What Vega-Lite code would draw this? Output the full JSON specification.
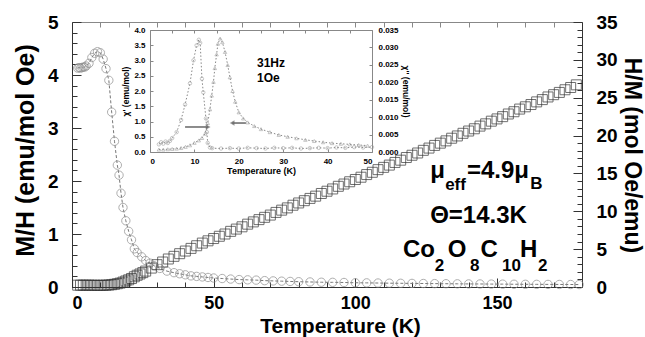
{
  "$schema": "https://vega.github.io/schema/vega-lite/v6.json",
  "width": 510,
  "height": 265,
  "autosize": {"type": "none"},
  "padding": {"left": 72, "top": 22, "right": 63, "bottom": 50},
  "background": "white",
  "config": {"view": {"stroke": null}, "font": "Liberation Sans", "axis": {"grid": false}},
  "datasets": {
    "mh": [
      {"x":2,"y":4.13},{"x":2.5,"y":4.14},{"x":3,"y":4.13},{"x":3.5,"y":4.14},{"x":4,"y":4.15},{"x":4.5,"y":4.15},{"x":5,"y":4.17},{"x":6,"y":4.22},{"x":7,"y":4.33},{"x":8,"y":4.41},{"x":9,"y":4.44},{"x":10,"y":4.42},{"x":11,"y":4.3},{"x":12,"y":4.12},{"x":13,"y":3.9},{"x":14,"y":3.3},{"x":15,"y":2.75},{"x":16,"y":2.3},{"x":16.6,"y":2.11},{"x":17.3,"y":1.77},{"x":18,"y":1.5},{"x":19,"y":1.25},{"x":20,"y":1.05},{"x":21,"y":0.89},{"x":22,"y":0.72},{"x":23,"y":0.65},{"x":24.6,"y":0.57},{"x":26,"y":0.5},{"x":27.5,"y":0.45},{"x":29,"y":0.4},{"x":31,"y":0.35},{"x":33.5,"y":0.3},{"x":36,"y":0.27},{"x":38,"y":0.25},{"x":40,"y":0.23},{"x":42,"y":0.21},{"x":44,"y":0.2},{"x":46,"y":0.19},{"x":48,"y":0.18},{"x":50,"y":0.17},{"x":53,"y":0.16},{"x":56,"y":0.15},{"x":59,"y":0.14},{"x":62,"y":0.135},{"x":65,"y":0.13},{"x":68,"y":0.12},{"x":71,"y":0.115},{"x":74,"y":0.11},{"x":77,"y":0.105},{"x":80,"y":0.1},{"x":84,"y":0.095},{"x":88,"y":0.09},{"x":92,"y":0.088},{"x":96,"y":0.085},{"x":100,"y":0.08},{"x":104,"y":0.078},{"x":108,"y":0.075},{"x":112,"y":0.072},{"x":116,"y":0.07},{"x":120,"y":0.068},{"x":124,"y":0.066},{"x":128,"y":0.064},{"x":132,"y":0.062},{"x":136,"y":0.06},{"x":140,"y":0.058},{"x":144,"y":0.057},{"x":148,"y":0.055},{"x":152,"y":0.054},{"x":156,"y":0.052},{"x":160,"y":0.051},{"x":164,"y":0.05},{"x":168,"y":0.049},{"x":172,"y":0.048},{"x":176,"y":0.047},{"x":179,"y":0.046}
    ],
    "hm": [
      {"x":2,"y":0.24},{"x":3,"y":0.24},{"x":4,"y":0.24},{"x":5,"y":0.24},{"x":6,"y":0.24},{"x":7,"y":0.23},{"x":8,"y":0.23},{"x":9,"y":0.22},{"x":10,"y":0.22},{"x":11,"y":0.23},{"x":12,"y":0.24},{"x":13,"y":0.26},{"x":14,"y":0.3},{"x":15,"y":0.36},{"x":16,"y":0.43},{"x":17,"y":0.52},{"x":18,"y":0.65},{"x":19,"y":0.8},{"x":20,"y":0.95},{"x":21,"y":1.12},{"x":22,"y":1.35},{"x":23,"y":1.55},{"x":24,"y":1.72},{"x":25,"y":1.9},{"x":26,"y":2.1},{"x":28,"y":2.5},{"x":30,"y":2.95},{"x":32,"y":3.3},{"x":34,"y":3.7},{"x":36,"y":4.05},{"x":38,"y":4.4},{"x":40,"y":4.75},{"x":42,"y":5.1},{"x":44,"y":5.45},{"x":46,"y":5.8},{"x":48,"y":6.1},{"x":50,"y":6.4},{"x":52,"y":6.7},{"x":54,"y":7.0},{"x":56,"y":7.35},{"x":58,"y":7.65},{"x":60,"y":7.95},{"x":62,"y":8.3},{"x":64,"y":8.6},{"x":66,"y":8.9},{"x":68,"y":9.2},{"x":70,"y":9.5},{"x":72,"y":9.85},{"x":74,"y":10.15},{"x":76,"y":10.45},{"x":78,"y":10.8},{"x":80,"y":11.1},{"x":82,"y":11.4},{"x":84,"y":11.7},{"x":86,"y":12.0},{"x":88,"y":12.35},{"x":90,"y":12.65},{"x":92,"y":12.95},{"x":94,"y":13.3},{"x":96,"y":13.6},{"x":98,"y":13.9},{"x":100,"y":14.2},{"x":102,"y":14.5},{"x":104,"y":14.85},{"x":106,"y":15.15},{"x":108,"y":15.5},{"x":110,"y":15.8},{"x":112,"y":16.1},{"x":114,"y":16.45},{"x":116,"y":16.75},{"x":118,"y":17.1},{"x":120,"y":17.4},{"x":122,"y":17.7},{"x":124,"y":18.05},{"x":126,"y":18.35},{"x":128,"y":18.7},{"x":130,"y":19.0},{"x":132,"y":19.3},{"x":134,"y":19.65},{"x":136,"y":19.95},{"x":138,"y":20.3},{"x":140,"y":20.6},{"x":142,"y":20.9},{"x":144,"y":21.25},{"x":146,"y":21.55},{"x":148,"y":21.9},{"x":150,"y":22.2},{"x":152,"y":22.5},{"x":154,"y":22.85},{"x":156,"y":23.15},{"x":158,"y":23.5},{"x":160,"y":23.8},{"x":162,"y":24.1},{"x":164,"y":24.45},{"x":166,"y":24.75},{"x":168,"y":25.1},{"x":170,"y":25.4},{"x":172,"y":25.7},{"x":174,"y":26.05},{"x":176,"y":26.35},{"x":178,"y":26.7}
    ],
    "ann": [
      {"x":126.4,"y":2.06,"t":"μ","s":24},
      {"x":131.7,"y":1.83,"t":"eff","s":17},
      {"x":139.4,"y":2.06,"t":"=4.9μ","s":24},
      {"x":161.7,"y":1.85,"t":"B","s":17},
      {"x":126.4,"y":1.21,"t":"Θ=14.3K","s":24},
      {"x":116.8,"y":0.566,"t":"Co","s":24},
      {"x":128.0,"y":0.3,"t":"2","s":17},
      {"x":132.6,"y":0.566,"t":"O","s":24},
      {"x":140.5,"y":0.3,"t":"8","s":17},
      {"x":144.2,"y":0.566,"t":"C","s":24},
      {"x":151.8,"y":0.3,"t":"10","s":17},
      {"x":158.1,"y":0.566,"t":"H","s":24},
      {"x":164.5,"y":0.3,"t":"2","s":17}
    ],
    "chia": [
      {"x":2,"y":0.08},{"x":3,"y":0.08},{"x":4,"y":0.09},{"x":5,"y":0.1},{"x":6,"y":0.11},{"x":7,"y":0.13},{"x":8,"y":0.17},{"x":9,"y":0.22},{"x":10,"y":0.3},{"x":11,"y":0.38},{"x":11.7,"y":0.46},{"x":12.4,"y":0.6},{"x":13,"y":0.95},{"x":13.5,"y":1.4},{"x":13.9,"y":1.85},{"x":14.3,"y":2.3},{"x":14.6,"y":2.75},{"x":15,"y":3.2},{"x":15.3,"y":3.55},{"x":15.8,"y":3.72},{"x":16.3,"y":3.6},{"x":16.9,"y":3.28},{"x":17.5,"y":2.85},{"x":18,"y":2.45},{"x":18.6,"y":2.0},{"x":19.2,"y":1.65},{"x":20,"y":1.3},{"x":21,"y":1.1},{"x":22,"y":0.97},{"x":23.5,"y":0.85},{"x":25,"y":0.75},{"x":27,"y":0.65},{"x":29,"y":0.56},{"x":31,"y":0.5},{"x":33,"y":0.45},{"x":35,"y":0.4},{"x":37,"y":0.36},{"x":39,"y":0.32},{"x":41,"y":0.29},{"x":43,"y":0.27},{"x":45,"y":0.25},{"x":47,"y":0.23},{"x":49,"y":0.21}
    ],
    "chib": [
      {"x":2,"y":0.0022},{"x":2.5,"y":0.0028},{"x":3,"y":0.0024},{"x":3.5,"y":0.003},{"x":4,"y":0.0026},{"x":4.5,"y":0.0032},{"x":5,"y":0.004},{"x":6,"y":0.0057},{"x":7,"y":0.0092},{"x":7.9,"y":0.0136},{"x":9,"y":0.0197},{"x":9.8,"y":0.0263},{"x":10.5,"y":0.0306},{"x":11,"y":0.0322},{"x":11.3,"y":0.0313},{"x":11.7,"y":0.021},{"x":12,"y":0.0171},{"x":12.6,"y":0.0096},{"x":12.8,"y":0.0057},{"x":13,"y":0.0026},{"x":13.5,"y":0.0013},{"x":14,"y":0.0011},{"x":16,"y":0.001},{"x":18,"y":0.0011},{"x":20,"y":0.001},{"x":22,"y":0.0012},{"x":24,"y":0.0011},{"x":26,"y":0.001},{"x":28,"y":0.0012},{"x":30,"y":0.0011},{"x":32,"y":0.0012},{"x":34,"y":0.001},{"x":36,"y":0.0011},{"x":38,"y":0.0012},{"x":40,"y":0.0011},{"x":42,"y":0.0013},{"x":44,"y":0.0012},{"x":46,"y":0.0014},{"x":48,"y":0.0013},{"x":50,"y":0.0014}
    ],
    "itext": [
      {"x":24.1,"y":2.79,"t":"31Hz"},
      {"x":24.1,"y":2.3,"t":"1Oe"}
    ],
    "arrows": [
      {"x":7.9,"x2":13.1,"y":0.82},
      {"x":18.5,"x2":21.6,"y":0.95}
    ],
    "tips": [
      {"x":13.1,"y":0.82,"shape":"triangle-right"},
      {"x":18.5,"y":0.95,"shape":"triangle-left"}
    ]
  },
  "resolve": {"scale": {"x": "independent", "y": "independent"}, "axis": {"x": "independent", "y": "independent"}},
  "layer": [
    {
      "encoding": {
        "x": {"field": "x", "type": "quantitative", "scale": {"domain": [0, 180], "nice": false},
          "axis": {"orient": "bottom", "values": [0,10,20,30,40,50,60,70,80,90,100,110,120,130,140,150,160,170,180],
            "labelExpr": "datum.value % 50 === 0 ? format(datum.value,'d') : ''",
            "tickSize": {"condition": {"test": "datum.value % 50 === 0", "value": -9}, "value": -5},
            "labelFontSize": 18, "labelFontWeight": "bold", "labelColor": "black", "labelPadding": 16,
            "domainColor": "#333", "tickColor": "#333",
            "title": "Temperature (K)", "titleFontSize": 21, "titleFontWeight": "bold", "titleColor": "black",
            "titleX": 268, "titleY": 45, "titleBaseline": "alphabetic"}},
        "y": {"field": "y", "type": "quantitative", "scale": {"domain": [0, 5], "nice": false},
          "axis": {"orient": "left", "values": [0,0.2,0.4,0.6,0.8,1,1.2,1.4,1.6,1.8,2,2.2,2.4,2.6,2.8,3,3.2,3.4,3.6,3.8,4,4.2,4.4,4.6,4.8,5],
            "labelExpr": "datum.value % 1 === 0 ? format(datum.value,'d') : ''",
            "tickSize": {"condition": {"test": "datum.value % 1 === 0", "value": -9}, "value": -5},
            "labelFontSize": 19, "labelFontWeight": "bold", "labelColor": "black", "labelPadding": 23,
            "domainColor": "#333", "tickColor": "#333",
            "title": "M/H (emu/mol Oe)", "titleFontSize": 25, "titleFontWeight": "bold", "titleColor": "black",
            "titleAngle": 270, "titleX": -39, "titleY": 128, "titleBaseline": "alphabetic", "titleAlign": "center"}}
      },
      "layer": [
        {"data": {"name": "mh"}, "mark": {"type": "line", "stroke": "#777", "strokeDash": [3, 2], "strokeWidth": 1}},
        {"data": {"name": "mh"}, "mark": {"type": "point", "shape": "circle", "filled": false, "stroke": "#8c8c8c", "size": 70, "strokeWidth": 1}},
        {"data": {"name": "ann"}, "mark": {"type": "text", "font": "Liberation Sans", "fontWeight": "bold", "align": "left", "baseline": "alphabetic", "color": "black"},
          "encoding": {"text": {"field": "t"}, "size": {"field": "s", "type": "quantitative", "scale": null}}}
      ]
    },
    {
      "data": {"name": "hm"},
      "mark": {"type": "point", "shape": "square", "filled": false, "stroke": "#333", "size": 100, "strokeWidth": 1},
      "encoding": {
        "x": {"field": "x", "type": "quantitative", "scale": {"domain": [0, 180], "nice": false},
          "axis": {"orient": "top", "labels": false, "title": null, "values": [0,10,20,30,40,50,60,70,80,90,100,110,120,130,140,150,160,170,180],
            "tickSize": -5, "domainColor": "#888", "tickColor": "#888"}},
        "y": {"field": "y", "type": "quantitative", "scale": {"domain": [0, 35], "nice": false},
          "axis": {"orient": "right", "values": [0,1,2,3,4,5,6,7,8,9,10,11,12,13,14,15,16,17,18,19,20,21,22,23,24,25,26,27,28,29,30,31,32,33,34,35],
            "labelExpr": "datum.value % 5 === 0 ? format(datum.value,'d') : ''",
            "tickSize": {"condition": {"test": "datum.value % 5 === 0", "value": -9}, "value": -5},
            "labelFontSize": 19, "labelFontWeight": "bold", "labelColor": "black", "labelPadding": 23,
            "domainColor": "#333", "tickColor": "#333",
            "title": "H/M (mol Oe/emu)", "titleFontSize": 23, "titleFontWeight": "bold", "titleColor": "black",
            "titleAngle": 90, "titleX": 42, "titleY": 133, "titleBaseline": "alphabetic", "titleAlign": "center"}}
      }
    },
    {
      "encoding": {
        "x": {"field": "x", "type": "quantitative", "scale": {"domain": [0, 50], "range": [78, 300], "nice": false},
          "axis": {"orient": "bottom", "offset": -135, "values": [0,10,20,30,40,50], "format": "d", "tickSize": -3,
            "labelFontSize": 8, "labelFontWeight": "bold", "labelColor": "black", "labelPadding": 8,
            "domainColor": "#888", "tickColor": "#888",
            "title": "Temperature (K)", "titleFontSize": 9, "titleFontWeight": "bold", "titleColor": "black", "titlePadding": 1}},
        "y": {"field": "y", "type": "quantitative", "scale": {"domain": [0, 4], "range": [130, 8], "nice": false},
          "axis": {"orient": "left", "offset": -78, "values": [0,0.5,1,1.5,2,2.5,3,3.5,4], "format": ".1f", "tickSize": -3,
            "labelFontSize": 8, "labelFontWeight": "bold", "labelColor": "black", "labelPadding": 8,
            "domainColor": "#888", "tickColor": "#888",
            "title": "χ' (emu/mol)", "titleFontSize": 8.5, "titleFontWeight": "bold", "titleColor": "black", "titlePadding": 3}}
      },
      "layer": [
        {"data": {"name": "chia"}, "mark": {"type": "line", "stroke": "#888", "strokeDash": [1.5, 2], "strokeWidth": 1}},
        {"data": {"name": "chia"}, "mark": {"type": "point", "shape": "triangle-up", "filled": false, "stroke": "#999", "size": 12, "strokeWidth": 0.8}},
        {"data": {"name": "itext"}, "mark": {"type": "text", "font": "Liberation Sans", "fontWeight": "bold", "fontSize": 12, "align": "left", "baseline": "alphabetic", "color": "black"},
          "encoding": {"text": {"field": "t"}}},
        {"data": {"name": "arrows"}, "mark": {"type": "rule", "stroke": "#666", "strokeWidth": 1.5},
          "encoding": {"x2": {"field": "x2"}}},
        {"data": {"name": "tips"}, "mark": {"type": "point", "filled": true, "color": "#666", "size": 30},
          "encoding": {"shape": {"field": "shape", "type": "nominal", "scale": null}}}
      ]
    },
    {
      "data": {"name": "chib"},
      "encoding": {
        "x": {"field": "x", "type": "quantitative", "scale": {"domain": [0, 50], "range": [78, 300], "nice": false},
          "axis": {"orient": "top", "offset": -8, "labels": false, "title": null, "values": [0,5,10,15,20,25,30,35,40,45,50], "tickSize": -3,
            "domainColor": "#888", "tickColor": "#888"}},
        "y": {"field": "y", "type": "quantitative", "scale": {"domain": [0, 0.035], "range": [130, 8], "nice": false},
          "axis": {"orient": "right", "offset": -210, "values": [0,0.005,0.01,0.015,0.02,0.025,0.03,0.035], "format": ".3f", "tickSize": -3,
            "labelFontSize": 8, "labelFontWeight": "bold", "labelColor": "black", "labelPadding": 9,
            "domainColor": "#888", "tickColor": "#888",
            "title": "χ'' (emu/mol)", "titleFontSize": 8.5, "titleFontWeight": "bold", "titleColor": "black", "titleAngle": 90, "titlePadding": 2}}
      },
      "layer": [
        {"mark": {"type": "line", "stroke": "#888", "strokeDash": [1.5, 2], "strokeWidth": 1}},
        {"mark": {"type": "point", "shape": "circle", "filled": false, "stroke": "#999", "size": 12, "strokeWidth": 0.8}}
      ]
    }
  ]
}
